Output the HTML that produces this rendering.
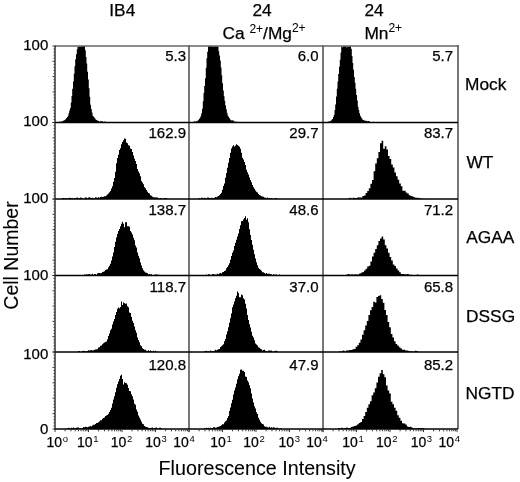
<!DOCTYPE html>
<html><head><meta charset="utf-8"><style>
html,body{margin:0;padding:0;background:#fff;width:520px;height:482px;overflow:hidden}
svg{display:block;filter:blur(0.35px)}
</style></head><body>
<svg width="520" height="482" viewBox="0 0 520 482"><rect width="520" height="482" fill="#fff"/><g fill="#000"><path d="M58.0,122.5L58.0,122.16L58.8,122.16L58.8,122.26L59.5,122.26L59.5,121.55L60.2,121.55L60.2,122.14L61.0,122.14L61.0,121.47L61.8,121.47L61.8,121.35L62.5,121.35L62.5,121.34L63.2,121.34L63.2,120.43L64.0,120.43L64.0,120.28L64.8,120.28L64.8,119.79L65.5,119.79L65.5,119.06L66.2,119.06L66.2,117.90L67.0,117.90L67.0,117.08L67.8,117.08L67.8,115.79L68.5,115.79L68.5,113.29L69.2,113.29L69.2,110.47L70.0,110.47L70.0,108.00L70.8,108.00L70.8,102.41L71.5,102.41L71.5,95.91L72.2,95.91L72.2,88.76L73.0,88.76L73.0,81.38L73.8,81.38L73.8,73.73L74.5,73.73L74.5,66.19L75.2,66.19L75.2,59.32L76.0,59.32L76.0,54.16L76.8,54.16L76.8,49.24L77.5,49.24L77.5,46.25L78.2,46.25L78.2,46.89L79.0,46.89L79.0,46.19L79.8,46.19L79.8,46.57L80.5,46.57L80.5,46.22L81.2,46.22L81.2,46.30L82.0,46.30L82.0,46.06L82.8,46.06L82.8,46.00L83.5,46.00L83.5,46.23L84.2,46.23L84.2,46.00L85.0,46.00L85.0,50.20L85.8,50.20L85.8,56.92L86.5,56.92L86.5,63.60L87.2,63.60L87.2,71.72L88.0,71.72L88.0,79.54L88.8,79.54L88.8,88.17L89.5,88.17L89.5,96.68L90.2,96.68L90.2,104.68L91.0,104.68L91.0,109.01L91.8,109.01L91.8,112.45L92.5,112.45L92.5,115.69L93.2,115.69L93.2,116.43L94.0,116.43L94.0,117.44L94.8,117.44L94.8,118.62L95.5,118.62L95.5,119.60L96.2,119.60L96.2,119.89L97.0,119.89L97.0,120.42L97.8,120.42L97.8,120.89L98.5,120.89L98.5,120.81L99.2,120.81L99.2,121.67L100.0,121.67L100.0,121.24L100.8,121.24L100.8,121.24L101.5,121.24L101.5,121.54L102.2,121.54L102.2,121.24L103.0,121.24L103.0,121.98L103.8,121.98L103.8,121.60L104.5,121.60L104.5,121.78L105.2,121.78L105.2,121.87L106.0,121.87L106.0,122.5Z"/><path d="M193.0,122.5L193.0,122.00L193.8,122.00L193.8,121.42L194.5,121.42L194.5,121.18L195.2,121.18L195.2,121.63L196.0,121.63L196.0,121.24L196.8,121.24L196.8,121.37L197.5,121.37L197.5,120.42L198.2,120.42L198.2,119.77L199.0,119.77L199.0,118.83L199.8,118.83L199.8,117.69L200.5,117.69L200.5,116.08L201.2,116.08L201.2,113.32L202.0,113.32L202.0,108.74L202.8,108.74L202.8,101.23L203.5,101.23L203.5,93.04L204.2,93.04L204.2,85.89L205.0,85.89L205.0,78.37L205.8,78.37L205.8,67.77L206.5,67.77L206.5,58.23L207.2,58.23L207.2,51.69L208.0,51.69L208.0,46.16L208.8,46.16L208.8,46.00L209.5,46.00L209.5,46.45L210.2,46.45L210.2,46.02L211.0,46.02L211.0,46.03L211.8,46.03L211.8,46.57L212.5,46.57L212.5,46.09L213.2,46.09L213.2,46.68L214.0,46.68L214.0,46.60L214.8,46.60L214.8,46.17L215.5,46.17L215.5,46.22L216.2,46.22L216.2,46.34L217.0,46.34L217.0,46.14L217.8,46.14L217.8,46.98L218.5,46.98L218.5,51.32L219.2,51.32L219.2,55.52L220.0,55.52L220.0,60.57L220.8,60.57L220.8,67.59L221.5,67.59L221.5,75.23L222.2,75.23L222.2,83.13L223.0,83.13L223.0,90.38L223.8,90.38L223.8,96.28L224.5,96.28L224.5,100.85L225.2,100.85L225.2,105.62L226.0,105.62L226.0,109.13L226.8,109.13L226.8,112.70L227.5,112.70L227.5,115.46L228.2,115.46L228.2,116.66L229.0,116.66L229.0,118.04L229.8,118.04L229.8,119.28L230.5,119.28L230.5,119.95L231.2,119.95L231.2,120.46L232.0,120.46L232.0,120.13L232.8,120.13L232.8,120.38L233.5,120.38L233.5,120.84L234.2,120.84L234.2,121.64L235.0,121.64L235.0,121.67L235.8,121.67L235.8,122.06L236.5,122.06L236.5,121.46L237.2,121.46L237.2,122.19L238.0,122.19L238.0,122.22L238.8,122.22L238.8,122.09L239.5,122.09L239.5,122.19L240.2,122.19L240.2,122.01L241.0,122.01L241.0,122.40L241.8,122.40L241.8,122.50L242.5,122.50L242.5,122.36L243.2,122.36L243.2,122.46L244.0,122.46L244.0,122.5Z"/><path d="M327.0,122.5L327.0,122.09L327.8,122.09L327.8,122.34L328.5,122.34L328.5,121.18L329.2,121.18L329.2,121.27L330.0,121.27L330.0,121.30L330.8,121.30L330.8,120.51L331.5,120.51L331.5,119.87L332.2,119.87L332.2,118.91L333.0,118.91L333.0,116.96L333.8,116.96L333.8,114.63L334.5,114.63L334.5,110.25L335.2,110.25L335.2,104.53L336.0,104.53L336.0,96.43L336.8,96.43L336.8,88.67L337.5,88.67L337.5,81.42L338.2,81.42L338.2,74.02L339.0,74.02L339.0,66.80L339.8,66.80L339.8,59.68L340.5,59.68L340.5,52.63L341.2,52.63L341.2,46.16L342.0,46.16L342.0,47.32L342.8,47.32L342.8,46.06L343.5,46.06L343.5,46.18L344.2,46.18L344.2,46.00L345.0,46.00L345.0,46.00L345.8,46.00L345.8,46.00L346.5,46.00L346.5,47.50L347.2,47.50L347.2,46.14L348.0,46.14L348.0,46.46L348.8,46.46L348.8,46.55L349.5,46.55L349.5,46.00L350.2,46.00L350.2,46.42L351.0,46.42L351.0,48.87L351.8,48.87L351.8,56.06L352.5,56.06L352.5,63.09L353.2,63.09L353.2,69.69L354.0,69.69L354.0,77.00L354.8,77.00L354.8,82.84L355.5,82.84L355.5,88.68L356.2,88.68L356.2,94.95L357.0,94.95L357.0,100.54L357.8,100.54L357.8,106.84L358.5,106.84L358.5,110.02L359.2,110.02L359.2,113.32L360.0,113.32L360.0,115.68L360.8,115.68L360.8,117.14L361.5,117.14L361.5,118.20L362.2,118.20L362.2,119.46L363.0,119.46L363.0,120.01L363.8,120.01L363.8,120.26L364.5,120.26L364.5,120.82L365.2,120.82L365.2,120.66L366.0,120.66L366.0,120.70L366.8,120.70L366.8,121.58L367.5,121.58L367.5,121.04L368.2,121.04L368.2,121.04L369.0,121.04L369.0,121.13L369.8,121.13L369.8,121.89L370.5,121.89L370.5,122.12L371.2,122.12L371.2,122.16L372.0,122.16L372.0,122.25L372.8,122.25L372.8,122.29L373.5,122.29L373.5,121.84L374.2,121.84L374.2,122.5Z"/><path d="M62.0,199.0L62.0,198.01L63.0,198.01L63.0,198.06L64.0,198.06L64.0,198.47L65.0,198.47L65.0,198.24L66.0,198.24L66.0,198.04L67.0,198.04L67.0,198.88L68.0,198.88L68.0,198.17L69.0,198.17L69.0,197.85L70.0,197.85L70.0,197.98L71.0,197.98L71.0,198.00L72.0,198.00L72.0,198.30L73.0,198.30L73.0,198.64L74.0,198.64L74.0,197.89L75.0,197.89L75.0,198.41L76.0,198.41L76.0,197.83L77.0,197.83L77.0,197.61L78.0,197.61L78.0,198.27L79.0,198.27L79.0,198.25L80.0,198.25L80.0,197.57L81.0,197.57L81.0,197.82L82.0,197.82L82.0,198.46L83.0,198.46L83.0,198.49L84.0,198.49L84.0,198.44L85.0,198.44L85.0,197.52L86.0,197.52L86.0,197.61L87.0,197.61L87.0,198.38L88.0,198.38L88.0,197.55L89.0,197.55L89.0,197.34L90.0,197.34L90.0,197.71L91.0,197.71L91.0,198.05L92.0,198.05L92.0,197.79L93.0,197.79L93.0,198.27L94.0,198.27L94.0,198.39L95.0,198.39L95.0,197.22L96.0,197.22L96.0,197.59L97.0,197.59L97.0,197.71L98.0,197.71L98.0,197.21L99.0,197.21L99.0,197.78L100.0,197.78L100.0,197.00L101.0,197.00L101.0,196.74L102.0,196.74L102.0,196.88L103.0,196.88L103.0,196.80L104.0,196.80L104.0,196.25L105.0,196.25L105.0,196.17L106.0,196.17L106.0,195.51L107.0,195.51L107.0,194.38L108.0,194.38L108.0,193.42L109.0,193.42L109.0,192.31L110.0,192.31L110.0,190.99L111.0,190.99L111.0,188.46L112.0,188.46L112.0,186.14L113.0,186.14L113.0,181.80L114.0,181.80L114.0,177.98L115.0,177.98L115.0,171.67L116.0,171.67L116.0,163.37L117.0,163.37L117.0,157.91L118.0,157.91L118.0,154.75L119.0,154.75L119.0,150.06L120.0,150.06L120.0,148.13L121.0,148.13L121.0,144.23L122.0,144.23L122.0,141.88L123.0,141.88L123.0,140.20L124.0,140.20L124.0,138.62L125.0,138.62L125.0,138.72L126.0,138.72L126.0,142.43L127.0,142.43L127.0,143.18L128.0,143.18L128.0,145.32L129.0,145.32L129.0,145.84L130.0,145.84L130.0,148.52L131.0,148.52L131.0,149.05L132.0,149.05L132.0,151.99L133.0,151.99L133.0,155.49L134.0,155.49L134.0,158.72L135.0,158.72L135.0,161.10L136.0,161.10L136.0,164.08L137.0,164.08L137.0,168.88L138.0,168.88L138.0,171.50L139.0,171.50L139.0,173.15L140.0,173.15L140.0,176.16L141.0,176.16L141.0,181.06L142.0,181.06L142.0,182.60L143.0,182.60L143.0,184.33L144.0,184.33L144.0,187.35L145.0,187.35L145.0,188.16L146.0,188.16L146.0,189.92L147.0,189.92L147.0,191.85L148.0,191.85L148.0,193.03L149.0,193.03L149.0,193.49L150.0,193.49L150.0,195.14L151.0,195.14L151.0,195.65L152.0,195.65L152.0,196.82L153.0,196.82L153.0,197.28L154.0,197.28L154.0,197.37L155.0,197.37L155.0,197.53L156.0,197.53L156.0,197.22L157.0,197.22L157.0,197.41L158.0,197.41L158.0,198.32L159.0,198.32L159.0,198.40L160.0,198.40L160.0,198.08L161.0,198.08L161.0,198.59L162.0,198.59L162.0,198.45L163.0,198.45L163.0,198.72L164.0,198.72L164.0,198.07L165.0,198.07L165.0,198.00L166.0,198.00L166.0,197.93L167.0,197.93L167.0,198.88L168.0,198.88L168.0,199.0Z"/><path d="M198.0,199.0L198.0,198.22L199.0,198.22L199.0,198.23L200.0,198.23L200.0,198.80L201.0,198.80L201.0,197.87L202.0,197.87L202.0,197.72L203.0,197.72L203.0,198.56L204.0,198.56L204.0,197.64L205.0,197.64L205.0,198.25L206.0,198.25L206.0,198.10L207.0,198.10L207.0,197.44L208.0,197.44L208.0,197.58L209.0,197.58L209.0,198.34L210.0,198.34L210.0,197.96L211.0,197.96L211.0,197.81L212.0,197.81L212.0,197.98L213.0,197.98L213.0,198.10L214.0,198.10L214.0,197.80L215.0,197.80L215.0,196.91L216.0,196.91L216.0,197.30L217.0,197.30L217.0,196.44L218.0,196.44L218.0,196.05L219.0,196.05L219.0,195.25L220.0,195.25L220.0,194.04L221.0,194.04L221.0,192.86L222.0,192.86L222.0,189.69L223.0,189.69L223.0,186.09L224.0,186.09L224.0,183.45L225.0,183.45L225.0,177.64L226.0,177.64L226.0,173.01L227.0,173.01L227.0,167.65L228.0,167.65L228.0,162.63L229.0,162.63L229.0,158.01L230.0,158.01L230.0,152.75L231.0,152.75L231.0,148.46L232.0,148.46L232.0,146.39L233.0,146.39L233.0,145.26L234.0,145.26L234.0,146.45L235.0,146.45L235.0,145.57L236.0,145.57L236.0,144.18L237.0,144.18L237.0,144.97L238.0,144.97L238.0,145.81L239.0,145.81L239.0,146.86L240.0,146.86L240.0,148.65L241.0,148.65L241.0,152.75L242.0,152.75L242.0,157.65L243.0,157.65L243.0,159.38L244.0,159.38L244.0,162.06L245.0,162.06L245.0,165.03L246.0,165.03L246.0,169.77L247.0,169.77L247.0,172.16L248.0,172.16L248.0,174.45L249.0,174.45L249.0,177.44L250.0,177.44L250.0,179.88L251.0,179.88L251.0,182.26L252.0,182.26L252.0,184.93L253.0,184.93L253.0,187.32L254.0,187.32L254.0,188.73L255.0,188.73L255.0,190.46L256.0,190.46L256.0,191.66L257.0,191.66L257.0,192.58L258.0,192.58L258.0,193.88L259.0,193.88L259.0,194.91L260.0,194.91L260.0,195.49L261.0,195.49L261.0,196.20L262.0,196.20L262.0,196.42L263.0,196.42L263.0,196.83L264.0,196.83L264.0,197.44L265.0,197.44L265.0,197.67L266.0,197.67L266.0,197.95L267.0,197.95L267.0,197.48L268.0,197.48L268.0,198.11L269.0,198.11L269.0,197.92L270.0,197.92L270.0,198.38L271.0,198.38L271.0,198.24L272.0,198.24L272.0,198.71L273.0,198.71L273.0,198.49L274.0,198.49L274.0,198.84L275.0,198.84L275.0,198.05L276.0,198.05L276.0,198.34L277.0,198.34L277.0,198.84L278.0,198.84L278.0,199.0Z"/><path d="M348.0,199.0L348.0,198.47L349.6,198.47L349.6,197.81L351.2,197.81L351.2,198.69L352.8,198.69L352.8,197.73L354.4,197.73L354.4,198.08L356.0,198.08L356.0,197.89L357.6,197.89L357.6,197.37L359.2,197.37L359.2,197.62L360.8,197.62L360.8,197.56L362.4,197.56L362.4,196.12L364.0,196.12L364.0,195.47L365.6,195.47L365.6,192.94L367.2,192.94L367.2,191.01L368.8,191.01L368.8,188.37L370.4,188.37L370.4,183.85L372.0,183.85L372.0,180.06L373.6,180.06L373.6,171.22L375.2,171.22L375.2,163.44L376.8,163.44L376.8,158.15L378.4,158.15L378.4,152.08L380.0,152.08L380.0,143.37L381.6,143.37L381.6,140.79L383.2,140.79L383.2,148.84L384.8,148.84L384.8,146.20L386.4,146.20L386.4,149.54L388.0,149.54L388.0,155.93L389.6,155.93L389.6,159.02L391.2,159.02L391.2,164.60L392.8,164.60L392.8,167.54L394.4,167.54L394.4,172.60L396.0,172.60L396.0,176.29L397.6,176.29L397.6,179.69L399.2,179.69L399.2,183.58L400.8,183.58L400.8,186.30L402.4,186.30L402.4,190.67L404.0,190.67L404.0,190.72L405.6,190.72L405.6,192.50L407.2,192.50L407.2,193.48L408.8,193.48L408.8,195.24L410.4,195.24L410.4,195.94L412.0,195.94L412.0,196.44L413.6,196.44L413.6,197.19L415.2,197.19L415.2,197.66L416.8,197.66L416.8,197.84L418.4,197.84L418.4,198.37L420.0,198.37L420.0,198.17L421.6,198.17L421.6,198.93L423.2,198.93L423.2,198.78L424.8,198.78L424.8,199.0Z"/><path d="M78.0,275.5L78.0,275.47L79.0,275.47L79.0,275.06L80.0,275.06L80.0,275.44L81.0,275.44L81.0,275.42L82.0,275.42L82.0,275.04L83.0,275.04L83.0,275.08L84.0,275.08L84.0,274.61L85.0,274.61L85.0,274.64L86.0,274.64L86.0,274.33L87.0,274.33L87.0,274.40L88.0,274.40L88.0,274.28L89.0,274.28L89.0,274.04L90.0,274.04L90.0,274.59L91.0,274.59L91.0,274.62L92.0,274.62L92.0,273.78L93.0,273.78L93.0,274.74L94.0,274.74L94.0,274.01L95.0,274.01L95.0,274.06L96.0,274.06L96.0,274.68L97.0,274.68L97.0,273.38L98.0,273.38L98.0,272.96L99.0,272.96L99.0,273.08L100.0,273.08L100.0,273.21L101.0,273.21L101.0,272.89L102.0,272.89L102.0,272.10L103.0,272.10L103.0,271.84L104.0,271.84L104.0,271.36L105.0,271.36L105.0,269.97L106.0,269.97L106.0,269.57L107.0,269.57L107.0,269.14L108.0,269.14L108.0,267.26L109.0,267.26L109.0,265.73L110.0,265.73L110.0,263.83L111.0,263.83L111.0,260.41L112.0,260.41L112.0,256.52L113.0,256.52L113.0,252.48L114.0,252.48L114.0,247.11L115.0,247.11L115.0,241.69L116.0,241.69L116.0,237.58L117.0,237.58L117.0,233.90L118.0,233.90L118.0,231.00L119.0,231.00L119.0,229.00L120.0,229.00L120.0,226.22L121.0,226.22L121.0,223.82L122.0,223.82L122.0,221.85L123.0,221.85L123.0,223.83L124.0,223.83L124.0,227.20L125.0,227.20L125.0,222.23L126.0,222.23L126.0,222.29L127.0,222.29L127.0,226.21L128.0,226.21L128.0,226.14L129.0,226.14L129.0,226.87L130.0,226.87L130.0,231.10L131.0,231.10L131.0,232.59L132.0,232.59L132.0,234.45L133.0,234.45L133.0,237.67L134.0,237.67L134.0,240.32L135.0,240.32L135.0,245.44L136.0,245.44L136.0,247.53L137.0,247.53L137.0,252.44L138.0,252.44L138.0,255.70L139.0,255.70L139.0,258.37L140.0,258.37L140.0,262.51L141.0,262.51L141.0,265.53L142.0,265.53L142.0,268.24L143.0,268.24L143.0,270.33L144.0,270.33L144.0,271.59L145.0,271.59L145.0,272.50L146.0,272.50L146.0,272.86L147.0,272.86L147.0,273.35L148.0,273.35L148.0,274.14L149.0,274.14L149.0,273.93L150.0,273.93L150.0,274.52L151.0,274.52L151.0,274.27L152.0,274.27L152.0,275.00L153.0,275.00L153.0,275.00L154.0,275.00L154.0,274.81L155.0,274.81L155.0,274.39L156.0,274.39L156.0,274.43L157.0,274.43L157.0,274.51L158.0,274.51L158.0,275.03L159.0,275.03L159.0,274.83L160.0,274.83L160.0,274.95L161.0,274.95L161.0,275.01L162.0,275.01L162.0,275.5Z"/><path d="M205.0,275.5L205.0,275.43L206.0,275.43L206.0,274.43L207.0,274.43L207.0,275.20L208.0,275.20L208.0,274.20L209.0,274.20L209.0,274.19L210.0,274.19L210.0,275.23L211.0,275.23L211.0,274.64L212.0,274.64L212.0,274.14L213.0,274.14L213.0,273.90L214.0,273.90L214.0,274.46L215.0,274.46L215.0,274.61L216.0,274.61L216.0,274.62L217.0,274.62L217.0,273.67L218.0,273.67L218.0,274.14L219.0,274.14L219.0,273.53L220.0,273.53L220.0,272.99L221.0,272.99L221.0,273.54L222.0,273.54L222.0,272.13L223.0,272.13L223.0,271.91L224.0,271.91L224.0,271.02L225.0,271.02L225.0,270.49L226.0,270.49L226.0,268.31L227.0,268.31L227.0,266.96L228.0,266.96L228.0,265.27L229.0,265.27L229.0,263.30L230.0,263.30L230.0,259.86L231.0,259.86L231.0,256.03L232.0,256.03L232.0,252.66L233.0,252.66L233.0,250.50L234.0,250.50L234.0,246.05L235.0,246.05L235.0,242.75L236.0,242.75L236.0,239.73L237.0,239.73L237.0,236.41L238.0,236.41L238.0,233.45L239.0,233.45L239.0,228.97L240.0,228.97L240.0,225.27L241.0,225.27L241.0,221.16L242.0,221.16L242.0,220.93L243.0,220.93L243.0,219.39L244.0,219.39L244.0,218.06L245.0,218.06L245.0,216.18L246.0,216.18L246.0,219.75L247.0,219.75L247.0,218.32L248.0,218.32L248.0,222.13L249.0,222.13L249.0,229.37L250.0,229.37L250.0,234.93L251.0,234.93L251.0,240.08L252.0,240.08L252.0,244.63L253.0,244.63L253.0,249.78L254.0,249.78L254.0,254.31L255.0,254.31L255.0,258.53L256.0,258.53L256.0,262.22L257.0,262.22L257.0,265.20L258.0,265.20L258.0,267.85L259.0,267.85L259.0,268.98L260.0,268.98L260.0,269.73L261.0,269.73L261.0,270.63L262.0,270.63L262.0,272.17L263.0,272.17L263.0,272.26L264.0,272.26L264.0,272.96L265.0,272.96L265.0,273.87L266.0,273.87L266.0,273.10L267.0,273.10L267.0,273.77L268.0,273.77L268.0,273.73L269.0,273.73L269.0,273.77L270.0,273.77L270.0,274.30L271.0,274.30L271.0,274.17L272.0,274.17L272.0,275.04L273.0,275.04L273.0,274.28L274.0,274.28L274.0,274.69L275.0,274.69L275.0,274.39L276.0,274.39L276.0,274.59L277.0,274.59L277.0,275.09L278.0,275.09L278.0,275.44L279.0,275.44L279.0,274.45L280.0,274.45L280.0,275.5Z"/><path d="M340.0,275.5L340.0,275.41L341.6,275.41L341.6,274.93L343.2,274.93L343.2,275.01L344.8,275.01L344.8,275.00L346.4,275.00L346.4,274.40L348.0,274.40L348.0,274.05L349.6,274.05L349.6,274.84L351.2,274.84L351.2,274.29L352.8,274.29L352.8,274.65L354.4,274.65L354.4,274.27L356.0,274.27L356.0,274.40L357.6,274.40L357.6,274.60L359.2,274.60L359.2,273.61L360.8,273.61L360.8,272.66L362.4,272.66L362.4,271.91L364.0,271.91L364.0,270.61L365.6,270.61L365.6,268.82L367.2,268.82L367.2,266.57L368.8,266.57L368.8,265.80L370.4,265.80L370.4,261.52L372.0,261.52L372.0,256.42L373.6,256.42L373.6,252.86L375.2,252.86L375.2,248.92L376.8,248.92L376.8,245.16L378.4,245.16L378.4,240.90L380.0,240.90L380.0,238.60L381.6,238.60L381.6,236.54L383.2,236.54L383.2,239.47L384.8,239.47L384.8,245.13L386.4,245.13L386.4,248.49L388.0,248.49L388.0,252.76L389.6,252.76L389.6,256.96L391.2,256.96L391.2,260.60L392.8,260.60L392.8,264.51L394.4,264.51L394.4,266.09L396.0,266.09L396.0,268.40L397.6,268.40L397.6,270.55L399.2,270.55L399.2,272.19L400.8,272.19L400.8,274.10L402.4,274.10L402.4,273.88L404.0,273.88L404.0,274.15L405.6,274.15L405.6,274.14L407.2,274.14L407.2,273.95L408.8,273.95L408.8,274.83L410.4,274.83L410.4,274.86L412.0,274.86L412.0,274.98L413.6,274.98L413.6,274.90L415.2,274.90L415.2,274.94L416.8,274.94L416.8,274.43L418.4,274.43L418.4,275.5Z"/><path d="M78.0,352.0L78.0,351.05L79.0,351.05L79.0,350.96L80.0,350.96L80.0,351.92L81.0,351.92L81.0,351.85L82.0,351.85L82.0,350.98L83.0,350.98L83.0,350.69L84.0,350.69L84.0,351.14L85.0,351.14L85.0,350.94L86.0,350.94L86.0,351.59L87.0,351.59L87.0,351.06L88.0,351.06L88.0,350.36L89.0,350.36L89.0,350.42L90.0,350.42L90.0,350.32L91.0,350.32L91.0,350.06L92.0,350.06L92.0,350.57L93.0,350.57L93.0,350.37L94.0,350.37L94.0,349.82L95.0,349.82L95.0,349.61L96.0,349.61L96.0,349.25L97.0,349.25L97.0,349.18L98.0,349.18L98.0,347.39L99.0,347.39L99.0,347.22L100.0,347.22L100.0,345.63L101.0,345.63L101.0,345.42L102.0,345.42L102.0,344.19L103.0,344.19L103.0,343.37L104.0,343.37L104.0,342.55L105.0,342.55L105.0,341.99L106.0,341.99L106.0,341.45L107.0,341.45L107.0,339.33L108.0,339.33L108.0,336.08L109.0,336.08L109.0,333.55L110.0,333.55L110.0,330.21L111.0,330.21L111.0,328.74L112.0,328.74L112.0,324.49L113.0,324.49L113.0,321.58L114.0,321.58L114.0,319.07L115.0,319.07L115.0,315.02L116.0,315.02L116.0,312.04L117.0,312.04L117.0,308.68L118.0,308.68L118.0,307.58L119.0,307.58L119.0,308.32L120.0,308.32L120.0,306.89L121.0,306.89L121.0,301.62L122.0,301.62L122.0,305.03L123.0,305.03L123.0,302.42L124.0,302.42L124.0,303.36L125.0,303.36L125.0,303.87L126.0,303.87L126.0,303.48L127.0,303.48L127.0,306.19L128.0,306.19L128.0,307.35L129.0,307.35L129.0,312.56L130.0,312.56L130.0,312.95L131.0,312.95L131.0,317.10L132.0,317.10L132.0,320.76L133.0,320.76L133.0,322.88L134.0,322.88L134.0,326.52L135.0,326.52L135.0,330.25L136.0,330.25L136.0,332.72L137.0,332.72L137.0,337.38L138.0,337.38L138.0,340.06L139.0,340.06L139.0,342.30L140.0,342.30L140.0,345.20L141.0,345.20L141.0,346.15L142.0,346.15L142.0,348.13L143.0,348.13L143.0,349.09L144.0,349.09L144.0,349.65L145.0,349.65L145.0,349.77L146.0,349.77L146.0,350.69L147.0,350.69L147.0,351.12L148.0,351.12L148.0,350.28L149.0,350.28L149.0,351.13L150.0,351.13L150.0,350.59L151.0,350.59L151.0,351.37L152.0,351.37L152.0,351.45L153.0,351.45L153.0,350.87L154.0,350.87L154.0,351.50L155.0,351.50L155.0,350.78L156.0,350.78L156.0,351.40L157.0,351.40L157.0,351.84L158.0,351.84L158.0,352.0Z"/><path d="M203.0,352.0L203.0,351.80L204.0,351.80L204.0,351.49L205.0,351.49L205.0,351.12L206.0,351.12L206.0,350.71L207.0,350.71L207.0,351.60L208.0,351.60L208.0,351.23L209.0,351.23L209.0,351.38L210.0,351.38L210.0,350.40L211.0,350.40L211.0,351.32L212.0,351.32L212.0,351.36L213.0,351.36L213.0,351.28L214.0,351.28L214.0,350.69L215.0,350.69L215.0,349.63L216.0,349.63L216.0,350.36L217.0,350.36L217.0,349.73L218.0,349.73L218.0,349.24L219.0,349.24L219.0,349.02L220.0,349.02L220.0,346.91L221.0,346.91L221.0,346.14L222.0,346.14L222.0,345.37L223.0,345.37L223.0,344.25L224.0,344.25L224.0,341.34L225.0,341.34L225.0,338.93L226.0,338.93L226.0,334.39L227.0,334.39L227.0,331.14L228.0,331.14L228.0,327.37L229.0,327.37L229.0,322.87L230.0,322.87L230.0,318.22L231.0,318.22L231.0,313.43L232.0,313.43L232.0,307.21L233.0,307.21L233.0,304.40L234.0,304.40L234.0,301.47L235.0,301.47L235.0,298.28L236.0,298.28L236.0,295.75L237.0,295.75L237.0,291.50L238.0,291.50L238.0,293.01L239.0,293.01L239.0,297.21L240.0,297.21L240.0,297.27L241.0,297.27L241.0,294.61L242.0,294.61L242.0,295.15L243.0,295.15L243.0,298.22L244.0,298.22L244.0,299.39L245.0,299.39L245.0,303.75L246.0,303.75L246.0,308.59L247.0,308.59L247.0,314.90L248.0,314.90L248.0,319.99L249.0,319.99L249.0,324.16L250.0,324.16L250.0,327.40L251.0,327.40L251.0,331.79L252.0,331.79L252.0,335.74L253.0,335.74L253.0,337.47L254.0,337.47L254.0,340.16L255.0,340.16L255.0,343.55L256.0,343.55L256.0,344.61L257.0,344.61L257.0,345.41L258.0,345.41L258.0,347.35L259.0,347.35L259.0,347.82L260.0,347.82L260.0,348.74L261.0,348.74L261.0,349.14L262.0,349.14L262.0,350.43L263.0,350.43L263.0,349.95L264.0,349.95L264.0,349.82L265.0,349.82L265.0,350.67L266.0,350.67L266.0,350.99L267.0,350.99L267.0,351.38L268.0,351.38L268.0,350.55L269.0,350.55L269.0,350.42L270.0,350.42L270.0,350.83L271.0,350.83L271.0,350.53L272.0,350.53L272.0,351.70L273.0,351.70L273.0,351.51L274.0,351.51L274.0,351.29L275.0,351.29L275.0,350.78L276.0,350.78L276.0,350.85L277.0,350.85L277.0,351.60L278.0,351.60L278.0,352.0Z"/><path d="M338.0,352.0L338.0,351.74L339.6,351.74L339.6,351.42L341.2,351.42L341.2,351.23L342.8,351.23L342.8,350.60L344.4,350.60L344.4,351.38L346.0,351.38L346.0,350.52L347.6,350.52L347.6,350.49L349.2,350.49L349.2,350.10L350.8,350.10L350.8,350.05L352.4,350.05L352.4,349.19L354.0,349.19L354.0,348.88L355.6,348.88L355.6,346.66L357.2,346.66L357.2,345.32L358.8,345.32L358.8,342.66L360.4,342.66L360.4,339.47L362.0,339.47L362.0,334.80L363.6,334.80L363.6,330.31L365.2,330.31L365.2,325.39L366.8,325.39L366.8,321.08L368.4,321.08L368.4,314.98L370.0,314.98L370.0,310.24L371.6,310.24L371.6,307.09L373.2,307.09L373.2,301.84L374.8,301.84L374.8,302.40L376.4,302.40L376.4,296.98L378.0,296.98L378.0,296.10L379.6,296.10L379.6,295.16L381.2,295.16L381.2,299.09L382.8,299.09L382.8,302.84L384.4,302.84L384.4,310.10L386.0,310.10L386.0,315.05L387.6,315.05L387.6,322.06L389.2,322.06L389.2,327.30L390.8,327.30L390.8,334.08L392.4,334.08L392.4,337.51L394.0,337.51L394.0,341.17L395.6,341.17L395.6,344.09L397.2,344.09L397.2,345.60L398.8,345.60L398.8,347.19L400.4,347.19L400.4,348.60L402.0,348.60L402.0,349.63L403.6,349.63L403.6,349.75L405.2,349.75L405.2,350.43L406.8,350.43L406.8,350.46L408.4,350.46L408.4,351.22L410.0,351.22L410.0,351.28L411.6,351.28L411.6,351.40L413.2,351.40L413.2,351.63L414.8,351.63L414.8,350.86L416.4,350.86L416.4,351.35L418.0,351.35L418.0,352.0Z"/><path d="M66.0,429.0L66.0,428.69L67.0,428.69L67.0,428.55L68.0,428.55L68.0,427.79L69.0,427.79L69.0,428.33L70.0,428.33L70.0,428.61L71.0,428.61L71.0,427.87L72.0,427.87L72.0,428.01L73.0,428.01L73.0,427.56L74.0,427.56L74.0,428.58L75.0,428.58L75.0,428.09L76.0,428.09L76.0,427.63L77.0,427.63L77.0,427.56L78.0,427.56L78.0,427.42L79.0,427.42L79.0,428.42L80.0,428.42L80.0,428.07L81.0,428.07L81.0,428.24L82.0,428.24L82.0,428.11L83.0,428.11L83.0,427.06L84.0,427.06L84.0,427.30L85.0,427.30L85.0,426.65L86.0,426.65L86.0,427.09L87.0,427.09L87.0,427.21L88.0,427.21L88.0,426.77L89.0,426.77L89.0,426.59L90.0,426.59L90.0,426.04L91.0,426.04L91.0,426.56L92.0,426.56L92.0,425.50L93.0,425.50L93.0,424.79L94.0,424.79L94.0,424.76L95.0,424.76L95.0,424.02L96.0,424.02L96.0,423.12L97.0,423.12L97.0,423.01L98.0,423.01L98.0,422.14L99.0,422.14L99.0,421.47L100.0,421.47L100.0,420.29L101.0,420.29L101.0,420.35L102.0,420.35L102.0,418.83L103.0,418.83L103.0,418.09L104.0,418.09L104.0,417.51L105.0,417.51L105.0,416.07L106.0,416.07L106.0,415.44L107.0,415.44L107.0,414.89L108.0,414.89L108.0,413.71L109.0,413.71L109.0,412.08L110.0,412.08L110.0,409.88L111.0,409.88L111.0,407.75L112.0,407.75L112.0,403.55L113.0,403.55L113.0,399.56L114.0,399.56L114.0,396.37L115.0,396.37L115.0,392.17L116.0,392.17L116.0,387.80L117.0,387.80L117.0,384.26L118.0,384.26L118.0,381.52L119.0,381.52L119.0,379.02L120.0,379.02L120.0,375.83L121.0,375.83L121.0,374.78L122.0,374.78L122.0,378.90L123.0,378.90L123.0,384.47L124.0,384.47L124.0,382.35L125.0,382.35L125.0,382.96L126.0,382.96L126.0,383.16L127.0,383.16L127.0,384.73L128.0,384.73L128.0,388.00L129.0,388.00L129.0,391.11L130.0,391.11L130.0,391.29L131.0,391.29L131.0,394.21L132.0,394.21L132.0,396.27L133.0,396.27L133.0,399.48L134.0,399.48L134.0,403.71L135.0,403.71L135.0,404.74L136.0,404.74L136.0,409.57L137.0,409.57L137.0,411.80L138.0,411.80L138.0,415.41L139.0,415.41L139.0,417.53L140.0,417.53L140.0,419.56L141.0,419.56L141.0,421.73L142.0,421.73L142.0,423.65L143.0,423.65L143.0,424.23L144.0,424.23L144.0,426.10L145.0,426.10L145.0,426.86L146.0,426.86L146.0,427.12L147.0,427.12L147.0,427.29L148.0,427.29L148.0,427.64L149.0,427.64L149.0,428.18L150.0,428.18L150.0,428.07L151.0,428.07L151.0,427.85L152.0,427.85L152.0,427.42L153.0,427.42L153.0,428.46L154.0,428.46L154.0,428.06L155.0,428.06L155.0,427.75L156.0,427.75L156.0,427.61L157.0,427.61L157.0,428.59L158.0,428.59L158.0,428.74L159.0,428.74L159.0,427.82L160.0,427.82L160.0,427.84L161.0,427.84L161.0,428.49L162.0,428.49L162.0,429.0Z"/><path d="M203.0,429.0L203.0,429.00L204.0,429.00L204.0,427.88L205.0,427.88L205.0,428.46L206.0,428.46L206.0,427.77L207.0,427.77L207.0,428.04L208.0,428.04L208.0,427.73L209.0,427.73L209.0,428.46L210.0,428.46L210.0,427.64L211.0,427.64L211.0,428.24L212.0,428.24L212.0,427.95L213.0,427.95L213.0,427.35L214.0,427.35L214.0,427.30L215.0,427.30L215.0,427.76L216.0,427.76L216.0,427.40L217.0,427.40L217.0,427.05L218.0,427.05L218.0,426.84L219.0,426.84L219.0,426.42L220.0,426.42L220.0,425.96L221.0,425.96L221.0,425.21L222.0,425.21L222.0,424.14L223.0,424.14L223.0,424.13L224.0,424.13L224.0,422.43L225.0,422.43L225.0,421.23L226.0,421.23L226.0,420.46L227.0,420.46L227.0,418.09L228.0,418.09L228.0,416.06L229.0,416.06L229.0,410.97L230.0,410.97L230.0,407.45L231.0,407.45L231.0,403.26L232.0,403.26L232.0,399.63L233.0,399.63L233.0,394.46L234.0,394.46L234.0,390.53L235.0,390.53L235.0,387.59L236.0,387.59L236.0,383.68L237.0,383.68L237.0,379.26L238.0,379.26L238.0,376.15L239.0,376.15L239.0,373.72L240.0,373.72L240.0,369.73L241.0,369.73L241.0,369.54L242.0,369.54L242.0,370.72L243.0,370.72L243.0,370.63L244.0,370.63L244.0,371.88L245.0,371.88L245.0,376.62L246.0,376.62L246.0,376.90L247.0,376.90L247.0,380.59L248.0,380.59L248.0,382.17L249.0,382.17L249.0,385.33L250.0,385.33L250.0,388.34L251.0,388.34L251.0,393.49L252.0,393.49L252.0,398.51L253.0,398.51L253.0,402.40L254.0,402.40L254.0,406.28L255.0,406.28L255.0,408.49L256.0,408.49L256.0,412.20L257.0,412.20L257.0,414.09L258.0,414.09L258.0,417.72L259.0,417.72L259.0,419.72L260.0,419.72L260.0,421.77L261.0,421.77L261.0,423.27L262.0,423.27L262.0,424.11L263.0,424.11L263.0,424.60L264.0,424.60L264.0,426.18L265.0,426.18L265.0,426.66L266.0,426.66L266.0,426.77L267.0,426.77L267.0,427.16L268.0,427.16L268.0,427.50L269.0,427.50L269.0,426.78L270.0,426.78L270.0,427.85L271.0,427.85L271.0,427.14L272.0,427.14L272.0,427.81L273.0,427.81L273.0,427.32L274.0,427.32L274.0,427.45L275.0,427.45L275.0,428.42L276.0,428.42L276.0,427.75L277.0,427.75L277.0,427.65L278.0,427.65L278.0,428.76L279.0,428.76L279.0,428.49L280.0,428.49L280.0,428.08L281.0,428.08L281.0,428.87L282.0,428.87L282.0,429.0Z"/><path d="M338.0,429.0L338.0,427.97L339.6,427.97L339.6,428.61L341.2,428.61L341.2,427.85L342.8,427.85L342.8,428.54L344.4,428.54L344.4,428.01L346.0,428.01L346.0,427.39L347.6,427.39L347.6,428.14L349.2,428.14L349.2,427.89L350.8,427.89L350.8,427.09L352.4,427.09L352.4,426.58L354.0,426.58L354.0,426.10L355.6,426.10L355.6,425.47L357.2,425.47L357.2,424.13L358.8,424.13L358.8,423.02L360.4,423.02L360.4,422.12L362.0,422.12L362.0,419.07L363.6,419.07L363.6,416.10L365.2,416.10L365.2,412.05L366.8,412.05L366.8,407.75L368.4,407.75L368.4,404.15L370.0,404.15L370.0,401.28L371.6,401.28L371.6,395.34L373.2,395.34L373.2,392.41L374.8,392.41L374.8,388.27L376.4,388.27L376.4,382.48L378.0,382.48L378.0,376.64L379.6,376.64L379.6,373.22L381.2,373.22L381.2,369.93L382.8,369.93L382.8,374.14L384.4,374.14L384.4,377.36L386.0,377.36L386.0,385.61L387.6,385.61L387.6,390.55L389.2,390.55L389.2,393.45L390.8,393.45L390.8,401.67L392.4,401.67L392.4,404.30L394.0,404.30L394.0,407.71L395.6,407.71L395.6,410.85L397.2,410.85L397.2,415.13L398.8,415.13L398.8,417.85L400.4,417.85L400.4,420.81L402.0,420.81L402.0,423.16L403.6,423.16L403.6,423.55L405.2,423.55L405.2,424.55L406.8,424.55L406.8,426.60L408.4,426.60L408.4,427.07L410.0,427.07L410.0,426.78L411.6,426.78L411.6,427.78L413.2,427.78L413.2,428.38L414.8,428.38L414.8,428.46L416.4,428.46L416.4,428.44L418.0,428.44L418.0,427.99L419.6,427.99L419.6,428.32L421.2,428.32L421.2,428.34L422.8,428.34L422.8,428.00L424.4,428.00L424.4,429.0Z"/></g><g stroke="#777" stroke-width="2" fill="none"><line x1="189" y1="45" x2="189" y2="429"/><line x1="323" y1="45" x2="323" y2="429"/><line x1="458" y1="45" x2="458" y2="429"/><line x1="55" y1="46" x2="459" y2="46" stroke-width="1.6" stroke="#666"/></g><g stroke="#000" stroke-width="1.4"><line x1="55" y1="122.5" x2="458" y2="122.5"/><line x1="55" y1="199.0" x2="458" y2="199.0"/><line x1="55" y1="275.5" x2="458" y2="275.5"/><line x1="55" y1="352.0" x2="458" y2="352.0"/><line x1="55" y1="429.0" x2="458" y2="429.0"/></g><line x1="55" y1="45.5" x2="55" y2="430" stroke="#111" stroke-width="1.3"/><path d="M52.5,46.00H54.5M53.5,49.06H54.5M53.5,52.12H54.5M53.5,55.18H54.5M53.5,58.24H54.5M52.5,61.30H54.5M53.5,64.36H54.5M53.5,67.42H54.5M53.5,70.48H54.5M53.5,73.54H54.5M52.5,76.60H54.5M53.5,79.66H54.5M53.5,82.72H54.5M53.5,85.78H54.5M53.5,88.84H54.5M52.5,91.90H54.5M53.5,94.96H54.5M53.5,98.02H54.5M53.5,101.08H54.5M53.5,104.14H54.5M52.5,107.20H54.5M53.5,110.26H54.5M53.5,113.32H54.5M53.5,116.38H54.5M53.5,119.44H54.5M52.5,122.50H54.5M52.5,122.50H54.5M53.5,125.56H54.5M53.5,128.62H54.5M53.5,131.68H54.5M53.5,134.74H54.5M52.5,137.80H54.5M53.5,140.86H54.5M53.5,143.92H54.5M53.5,146.98H54.5M53.5,150.04H54.5M52.5,153.10H54.5M53.5,156.16H54.5M53.5,159.22H54.5M53.5,162.28H54.5M53.5,165.34H54.5M52.5,168.40H54.5M53.5,171.46H54.5M53.5,174.52H54.5M53.5,177.58H54.5M53.5,180.64H54.5M52.5,183.70H54.5M53.5,186.76H54.5M53.5,189.82H54.5M53.5,192.88H54.5M53.5,195.94H54.5M52.5,199.00H54.5M52.5,199.00H54.5M53.5,202.06H54.5M53.5,205.12H54.5M53.5,208.18H54.5M53.5,211.24H54.5M52.5,214.30H54.5M53.5,217.36H54.5M53.5,220.42H54.5M53.5,223.48H54.5M53.5,226.54H54.5M52.5,229.60H54.5M53.5,232.66H54.5M53.5,235.72H54.5M53.5,238.78H54.5M53.5,241.84H54.5M52.5,244.90H54.5M53.5,247.96H54.5M53.5,251.02H54.5M53.5,254.08H54.5M53.5,257.14H54.5M52.5,260.20H54.5M53.5,263.26H54.5M53.5,266.32H54.5M53.5,269.38H54.5M53.5,272.44H54.5M52.5,275.50H54.5M52.5,275.50H54.5M53.5,278.56H54.5M53.5,281.62H54.5M53.5,284.68H54.5M53.5,287.74H54.5M52.5,290.80H54.5M53.5,293.86H54.5M53.5,296.92H54.5M53.5,299.98H54.5M53.5,303.04H54.5M52.5,306.10H54.5M53.5,309.16H54.5M53.5,312.22H54.5M53.5,315.28H54.5M53.5,318.34H54.5M52.5,321.40H54.5M53.5,324.46H54.5M53.5,327.52H54.5M53.5,330.58H54.5M53.5,333.64H54.5M52.5,336.70H54.5M53.5,339.76H54.5M53.5,342.82H54.5M53.5,345.88H54.5M53.5,348.94H54.5M52.5,352.00H54.5M52.5,352.00H54.5M53.5,355.08H54.5M53.5,358.16H54.5M53.5,361.24H54.5M53.5,364.32H54.5M52.5,367.40H54.5M53.5,370.48H54.5M53.5,373.56H54.5M53.5,376.64H54.5M53.5,379.72H54.5M52.5,382.80H54.5M53.5,385.88H54.5M53.5,388.96H54.5M53.5,392.04H54.5M53.5,395.12H54.5M52.5,398.20H54.5M53.5,401.28H54.5M53.5,404.36H54.5M53.5,407.44H54.5M53.5,410.52H54.5M52.5,413.60H54.5M53.5,416.68H54.5M53.5,419.76H54.5M53.5,422.84H54.5M53.5,425.92H54.5M52.5,429.00H54.5" stroke="#222" stroke-width="0.9" fill="none"/><path d="M55.00,429.5V432.1M65.08,429.5V431.3M70.98,429.5V431.3M75.17,429.5V431.3M78.42,429.5V431.3M81.07,429.5V431.3M83.31,429.5V431.3M85.25,429.5V431.3M86.97,429.5V431.3M88.50,429.5V432.1M98.58,429.5V431.3M104.48,429.5V431.3M108.67,429.5V431.3M111.92,429.5V431.3M114.57,429.5V431.3M116.81,429.5V431.3M118.75,429.5V431.3M120.47,429.5V431.3M122.00,429.5V432.1M132.08,429.5V431.3M137.98,429.5V431.3M142.17,429.5V431.3M145.42,429.5V431.3M148.07,429.5V431.3M150.31,429.5V431.3M152.25,429.5V431.3M153.97,429.5V431.3M155.50,429.5V432.1M165.58,429.5V431.3M171.48,429.5V431.3M175.67,429.5V431.3M178.92,429.5V431.3M181.57,429.5V431.3M183.81,429.5V431.3M185.75,429.5V431.3M187.47,429.5V431.3M189.00,429.5V432.1M189.00,429.5V432.1M199.08,429.5V431.3M204.98,429.5V431.3M209.17,429.5V431.3M212.42,429.5V431.3M215.07,429.5V431.3M217.31,429.5V431.3M219.25,429.5V431.3M220.97,429.5V431.3M222.50,429.5V432.1M232.58,429.5V431.3M238.48,429.5V431.3M242.67,429.5V431.3M245.92,429.5V431.3M248.57,429.5V431.3M250.81,429.5V431.3M252.75,429.5V431.3M254.47,429.5V431.3M256.00,429.5V432.1M266.08,429.5V431.3M271.98,429.5V431.3M276.17,429.5V431.3M279.42,429.5V431.3M282.07,429.5V431.3M284.31,429.5V431.3M286.25,429.5V431.3M287.97,429.5V431.3M289.50,429.5V432.1M299.58,429.5V431.3M305.48,429.5V431.3M309.67,429.5V431.3M312.92,429.5V431.3M315.57,429.5V431.3M317.81,429.5V431.3M319.75,429.5V431.3M321.47,429.5V431.3M323.00,429.5V432.1M323.00,429.5V432.1M333.08,429.5V431.3M338.98,429.5V431.3M343.17,429.5V431.3M346.42,429.5V431.3M349.07,429.5V431.3M351.31,429.5V431.3M353.25,429.5V431.3M354.97,429.5V431.3M356.50,429.5V432.1M366.58,429.5V431.3M372.48,429.5V431.3M376.67,429.5V431.3M379.92,429.5V431.3M382.57,429.5V431.3M384.81,429.5V431.3M386.75,429.5V431.3M388.47,429.5V431.3M390.00,429.5V432.1M400.08,429.5V431.3M405.98,429.5V431.3M410.17,429.5V431.3M413.42,429.5V431.3M416.07,429.5V431.3M418.31,429.5V431.3M420.25,429.5V431.3M421.97,429.5V431.3M423.50,429.5V432.1M433.58,429.5V431.3M439.48,429.5V431.3M443.67,429.5V431.3M446.92,429.5V431.3M449.57,429.5V431.3M451.81,429.5V431.3M453.75,429.5V431.3M455.47,429.5V431.3M457.00,429.5V432.1" stroke="#222" stroke-width="0.9" fill="none"/><g font-family='"Liberation Sans", sans-serif' fill="#000" stroke="#000" stroke-width="0.25"><text x="186.0" y="60.5" font-size="15" text-anchor="end" >5.3</text><text x="318.5" y="60.5" font-size="15" text-anchor="end" >6.0</text><text x="453.1" y="60.5" font-size="15" text-anchor="end" >5.7</text><text x="186.0" y="138.2" font-size="15" text-anchor="end" >162.9</text><text x="318.5" y="138.2" font-size="15" text-anchor="end" >29.7</text><text x="453.1" y="138.2" font-size="15" text-anchor="end" >83.7</text><text x="186.0" y="215.2" font-size="15" text-anchor="end" >138.7</text><text x="318.5" y="215.2" font-size="15" text-anchor="end" >48.6</text><text x="453.1" y="215.2" font-size="15" text-anchor="end" >71.2</text><text x="186.0" y="291.8" font-size="15" text-anchor="end" >118.7</text><text x="318.5" y="291.8" font-size="15" text-anchor="end" >37.0</text><text x="453.1" y="291.8" font-size="15" text-anchor="end" >65.8</text><text x="186.0" y="369.8" font-size="15" text-anchor="end" >120.8</text><text x="318.5" y="369.8" font-size="15" text-anchor="end" >47.9</text><text x="453.1" y="369.8" font-size="15" text-anchor="end" >85.2</text><text x="48.3" y="50.4" font-size="15" text-anchor="end" >100</text><text x="48.3" y="126.1" font-size="15" text-anchor="end" >100</text><text x="48.3" y="203.4" font-size="15" text-anchor="end" >100</text><text x="48.3" y="280.4" font-size="15" text-anchor="end" >100</text><text x="48.3" y="358.7" font-size="15" text-anchor="end" >100</text><text x="48.3" y="434.3" font-size="15" text-anchor="end" >0</text><text x="465.0" y="90" font-size="17.3" text-anchor="start" >Mock</text><text x="466.5" y="168.1" font-size="17.3" text-anchor="start" >WT</text><text x="466.2" y="243.1" font-size="17.3" text-anchor="start" >AGAA</text><text x="466.1" y="321.9" font-size="17.3" text-anchor="start" >DSSG</text><text x="465.5" y="399.4" font-size="17.3" text-anchor="start" >NGTD</text><text x="122.3" y="16.3" font-size="17.3" text-anchor="middle" >IB4</text><text x="262" y="16.4" font-size="17.3" text-anchor="middle" >24</text><text x="222.5" y="38.7" font-size="17.3">Ca <tspan font-size="12" dy="-5.6" stroke-width="0.05">2+</tspan><tspan dy="5.5">/Mg</tspan><tspan font-size="12" dy="-6.5" stroke-width="0.05">2+</tspan></text><text x="374" y="16.4" font-size="17.3" text-anchor="middle" >24</text><text x="364.4" y="38.7" font-size="17.3">Mn<tspan font-size="12" dy="-6.5" stroke-width="0.05">2+</tspan></text><text x="57.3" y="446.9" font-size="14" text-anchor="middle">10<tspan font-size="9.5" dy="-5" dx="0.6" stroke-width="0">o</tspan></text><text x="87.7" y="446.9" font-size="14" text-anchor="middle">10<tspan font-size="9.5" dy="-5" dx="0.6" stroke-width="0">1</tspan></text><text x="121.5" y="446.9" font-size="14" text-anchor="middle">10<tspan font-size="9.5" dy="-5" dx="0.6" stroke-width="0">2</tspan></text><text x="156" y="446.9" font-size="14" text-anchor="middle">10<tspan font-size="9.5" dy="-5" dx="0.6" stroke-width="0">3</tspan></text><text x="184" y="446.9" font-size="14" text-anchor="middle">10<tspan font-size="9.5" dy="-5" dx="0.6" stroke-width="0">4</tspan></text><text x="221" y="446.9" font-size="14" text-anchor="middle">10<tspan font-size="9.5" dy="-5" dx="0.6" stroke-width="0">1</tspan></text><text x="254" y="446.9" font-size="14" text-anchor="middle">10<tspan font-size="9.5" dy="-5" dx="0.6" stroke-width="0">2</tspan></text><text x="289.3" y="446.9" font-size="14" text-anchor="middle">10<tspan font-size="9.5" dy="-5" dx="0.6" stroke-width="0">3</tspan></text><text x="317" y="446.9" font-size="14" text-anchor="middle">10<tspan font-size="9.5" dy="-5" dx="0.6" stroke-width="0">4</tspan></text><text x="353" y="446.9" font-size="14" text-anchor="middle">10<tspan font-size="9.5" dy="-5" dx="0.6" stroke-width="0">1</tspan></text><text x="386.7" y="446.9" font-size="14" text-anchor="middle">10<tspan font-size="9.5" dy="-5" dx="0.6" stroke-width="0">2</tspan></text><text x="421.4" y="446.9" font-size="14" text-anchor="middle">10<tspan font-size="9.5" dy="-5" dx="0.6" stroke-width="0">3</tspan></text><text x="449.3" y="446.9" font-size="14" text-anchor="middle">10<tspan font-size="9.5" dy="-5" dx="0.6" stroke-width="0">4</tspan></text><text x="257.1" y="474.8" font-size="19.7" text-anchor="middle" stroke-width="0.08">Fluorescence Intensity</text><text x="0" y="0" font-size="19.5" stroke-width="0.08" text-anchor="middle" transform="translate(17.5,255.5) rotate(-90)">Cell Number</text></g></svg>
</body></html>
